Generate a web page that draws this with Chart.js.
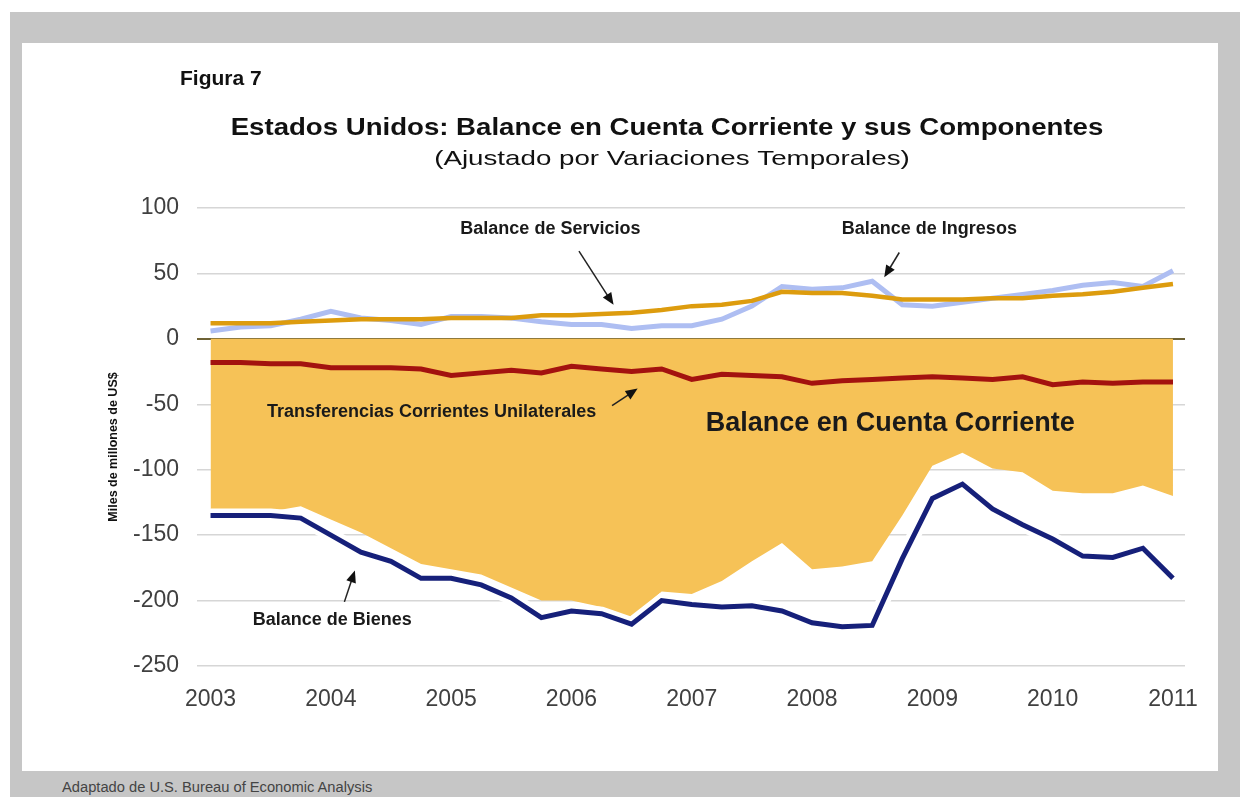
<!DOCTYPE html>
<html>
<head>
<meta charset="utf-8">
<script src="https://cdn.jsdelivr.net/npm/chart.js@4.4.1/dist/chart.umd.min.js"></script>
<style>
    html, body { margin: 0; padding: 0; background: #ffffff; }
    body { width: 1248px; height: 797px; position: relative; overflow: hidden; font-family: "Liberation Sans", Arial, sans-serif; }
    #frame { position: absolute; left: 10px; top: 12px; width: 1230px; height: 785px; background: #c6c6c6; }
    #panel { position: absolute; left: 22px; top: 43px; width: 1196px; height: 728px; background: #ffffff; }
    #source { position: absolute; left: 62px; top: 779px; font-size: 14.7px; color: #444; white-space: nowrap; }
</style>
</head>
<body>
<div id="frame"></div>
<div id="panel"><canvas id="cc-chart" width="1196" height="728"></canvas></div>
<div id="source">Adaptado de U.S. Bureau of Economic Analysis</div>
<script>
// --- Data (miles de millones de US$, trimestral 2003T1 - 2011T1) ---
const quarters = [
    '2003T1', '2003T2', '2003T3', '2003T4',
    '2004T1', '2004T2', '2004T3', '2004T4',
    '2005T1', '2005T2', '2005T3', '2005T4',
    '2006T1', '2006T2', '2006T3', '2006T4',
    '2007T1', '2007T2', '2007T3', '2007T4',
    '2008T1', '2008T2', '2008T3', '2008T4',
    '2009T1', '2009T2', '2009T3', '2009T4',
    '2010T1', '2010T2', '2010T3', '2010T4',
    '2011T1'
];
const yearTicks = ['2003', '2004', '2005', '2006', '2007', '2008', '2009', '2010', '2011'];

const cuentaCorriente = [-130, -131, -132, -128, -138, -148, -160, -172, -176, -180, -190, -200, -200, -205, -213, -193,
    -195, -185, -170, -156, -176, -174, -170, -135, -97, -87, -99, -102, -116, -118, -118, -112, -120];
const bienes = [-135, -135, -135, -137, -150, -163, -170, -183, -183, -188, -198, -213, -208, -210, -218, -200,
    -203, -205, -204, -208, -217, -220, -219, -168, -122, -111, -130, -142, -153, -166, -167, -160, -183];
const servicios = [12, 12, 12, 13, 14, 15, 15, 15, 16, 16, 16, 18, 18, 19, 20, 22,
    25, 26, 29, 36, 35, 35, 33, 30, 30, 30, 31, 31, 33, 34, 36, 39, 42];
const ingresos = [6, 9, 10, 15, 21, 16, 14, 11, 17, 17, 16, 13, 11, 11, 8, 10,
    10, 15, 25, 40, 38, 39, 44, 26, 25, 28, 31, 34, 37, 41, 43, 40, 52];
const transferencias = [-18, -18, -19, -19, -22, -22, -22, -23, -28, -26, -24, -26, -21, -23, -25, -23,
    -31, -27, -28, -29, -34, -32, -31, -30, -29, -30, -31, -29, -35, -33, -34, -33, -33];

// Annotation labels (placed in data space: quarter index, value)
const notes = [
    { text: 'Balance de Servicios', x: 11.3, y: 84, size: 18, arrow: [12.25, 67, 13.4, 26] },
    { text: 'Balance de Ingresos', x: 23.9, y: 84, size: 18, arrow: [22.9, 66, 22.4, 47] },
    { text: 'Transferencias Corrientes Unilaterales', x: 7.35, y: -56, size: 18, arrow: [13.35, -51, 14.2, -38] },
    { text: 'Balance en Cuenta Corriente', x: 22.6, y: -65, size: 27, arrow: null },
    { text: 'Balance de Bienes', x: 4.05, y: -215, size: 18, arrow: [4.45, -201, 4.8, -177] }
];

const toXY = arr => arr.map((v, i) => ({ x: i, y: v }));
const FONT = '"Liberation Sans", Arial, sans-serif';

// text with a horizontal stretch, like the scanned original
function stretchText(ctx, text, x, y, font, sx, align) {
    ctx.save();
    ctx.font = font;
    ctx.textAlign = align;
    ctx.translate(x, y);
    ctx.scale(sx, 1);
    ctx.fillText(text, 0, 0);
    ctx.restore();
}

const decor = {
    id: 'decor',
    afterDraw(chart) {
        const ctx = chart.ctx;
        const xs = chart.scales.x, ys = chart.scales.y;
        ctx.save();
        ctx.fillStyle = '#111';
        ctx.textBaseline = 'alphabetic';

        stretchText(ctx, 'Figura 7', 158, 42, `bold 21px ${FONT}`, 1, 'left');
        stretchText(ctx, 'Estados Unidos: Balance en Cuenta Corriente y sus Componentes', 645, 92, `bold 23px ${FONT}`, 1.2, 'center');
        stretchText(ctx, '(Ajustado por Variaciones Temporales)', 650, 122, `21px ${FONT}`, 1.32, 'center');

        // y axis title
        ctx.save();
        ctx.translate(92, 404);
        ctx.rotate(-Math.PI / 2);
        ctx.font = `bold 12.5px ${FONT}`;
        ctx.textAlign = 'center';
        ctx.textBaseline = 'middle';
        ctx.fillText('Miles de millones de US$', 0, 0);
        ctx.restore();

        // annotations
        notes.forEach(n => {
            const px = xs.getPixelForValue(n.x);
            const py = ys.getPixelForValue(n.y);
            ctx.textBaseline = 'middle';
            ctx.fillStyle = '#1a1a1a';
            stretchText(ctx, n.text, px, py, `bold ${n.size}px ${FONT}`, 1, 'center');
            if (n.arrow) {
                const x1 = xs.getPixelForValue(n.arrow[0]), y1 = ys.getPixelForValue(n.arrow[1]);
                const x2 = xs.getPixelForValue(n.arrow[2]), y2 = ys.getPixelForValue(n.arrow[3]);
                const ang = Math.atan2(y2 - y1, x2 - x1);
                ctx.strokeStyle = '#222';
                ctx.lineWidth = 1.5;
                ctx.beginPath();
                ctx.moveTo(x1, y1);
                ctx.lineTo(x2 - 8 * Math.cos(ang), y2 - 8 * Math.sin(ang));
                ctx.stroke();
                ctx.beginPath();
                ctx.moveTo(x2, y2);
                ctx.lineTo(x2 - 12 * Math.cos(ang) + 5 * Math.sin(ang), y2 - 12 * Math.sin(ang) - 5 * Math.cos(ang));
                ctx.lineTo(x2 - 12 * Math.cos(ang) - 5 * Math.sin(ang), y2 - 12 * Math.sin(ang) + 5 * Math.cos(ang));
                ctx.closePath();
                ctx.fillStyle = '#111';
                ctx.fill();
            }
        });
        ctx.restore();
    }
};

const ctx = document.getElementById('cc-chart').getContext('2d');
new Chart(ctx, {
    type: 'line',
    data: {
        datasets: [
            {
                label: 'Balance en Cuenta Corriente',
                data: toXY(cuentaCorriente),
                fill: 'origin',
                backgroundColor: '#f6c257',
                borderWidth: 0,
                pointRadius: 0,
                order: 10
            },
            {
                label: 'halo',
                data: toXY(bienes),
                borderColor: '#ffffff',
                borderWidth: 14,
                pointRadius: 0,
                fill: false,
                order: 6
            },
            {
                label: 'Balance de Bienes',
                data: toXY(bienes),
                borderColor: '#16207a',
                borderWidth: 5,
                pointRadius: 0,
                fill: false,
                order: 1
            },
            {
                label: 'Transferencias Corrientes Unilaterales',
                data: toXY(transferencias),
                borderColor: '#a3120f',
                borderWidth: 5,
                pointRadius: 0,
                fill: false,
                order: 1
            },
            {
                label: 'Balance de Ingresos',
                data: toXY(ingresos),
                borderColor: '#aebef2',
                borderWidth: 5,
                pointRadius: 0,
                fill: false,
                order: 3
            },
            {
                label: 'Balance de Servicios',
                data: toXY(servicios),
                borderColor: '#dd9c0e',
                borderWidth: 4.5,
                pointRadius: 0,
                fill: false,
                order: 2
            }
        ]
    },
    options: {
        responsive: false,
        animation: false,
        layout: { padding: { top: 165, right: 33, left: 0, bottom: 35 } },
        plugins: {
            legend: { display: false },
            tooltip: { enabled: false }
        },
        scales: {
            x: {
                type: 'linear',
                min: -0.45,
                max: 32.4,
                grid: { display: false },
                border: { display: false },
                afterFit: scale => { scale.height = 70; },
                ticks: {
                    stepSize: 4,
                    includeBounds: false,
                    autoSkip: false,
                    maxRotation: 0,
                    padding: 12,
                    color: '#404040',
                    font: { family: FONT, size: 23 },
                    callback: v => (v % 4 === 0 ? yearTicks[v / 4] : '')
                }
            },
            y: {
                min: -250,
                max: 100,
                afterFit: scale => { scale.width = 175; },
                border: { display: false },
                grid: {
                    drawTicks: false,
                    color: c => (c.tick.value === 0 ? '#6e6235' : '#d6d6d6'),
                    lineWidth: c => (c.tick.value === 0 ? 2 : 1.5)
                },
                ticks: {
                    stepSize: 50,
                    padding: 18,
                    color: '#404040',
                    font: { family: FONT, size: 23 }
                }
            }
        }
    },
    plugins: [decor]
});
</script>
</body>
</html>
